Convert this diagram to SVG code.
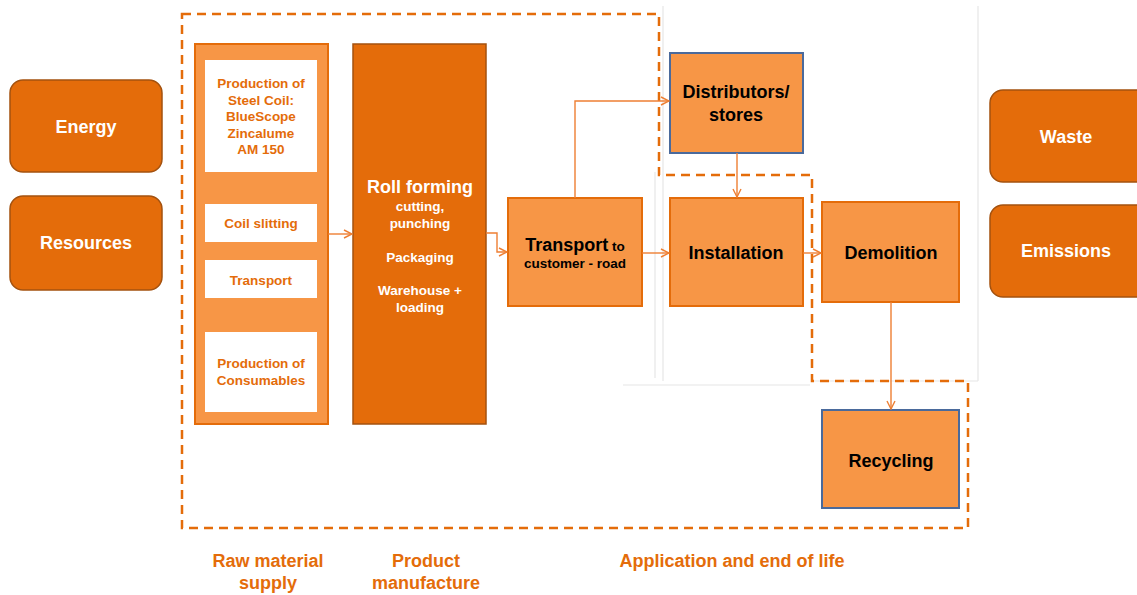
<svg xmlns="http://www.w3.org/2000/svg" width="1137" height="595" viewBox="0 0 1137 595">
<defs>
<style>
text{font-family:"Liberation Sans",Arial,sans-serif;font-weight:bold;text-anchor:middle}
.ext{fill:#E46C0A;stroke:#A4520F;stroke-width:1.5}
.ext-t{fill:#fff;font-size:18px}
.light{fill:#F79646;stroke:#E46C0A;stroke-width:2}
.blue{fill:#F79646;stroke:#4A6A9C;stroke-width:2}
.wbox{fill:#fff}
.ot{fill:#E46C0A;font-size:13.5px}
.bt{fill:#000;font-size:18px}
.wt{fill:#fff;font-size:13.5px}
.lab{fill:#E46C0A;font-size:18px}
.con{fill:none;stroke:#EE7F33;stroke-width:1.4}
.grey{fill:none;stroke:#E6E6E6;stroke-width:1.2}
.dash{fill:none;stroke:#E46C0A;stroke-width:2.5;stroke-dasharray:9,6}
</style>
<marker id="arr" viewBox="0 0 10 10" refX="9" refY="5" markerWidth="10" markerHeight="10" markerUnits="userSpaceOnUse" orient="auto">
<path d="M1,1 L9,5 L1,9" fill="none" stroke="#EE7F33" stroke-width="1.4"/>
</marker>
</defs>
<rect width="1137" height="595" fill="#fff"/>

<g id="guides">
<line class="grey" x1="663" y1="6" x2="663" y2="381"/>
<line class="grey" x1="655" y1="172" x2="655" y2="378"/>
<line class="grey" x1="623" y1="385" x2="810" y2="385"/>
<line class="grey" x1="978" y1="6" x2="978" y2="381"/>
<line class="grey" x1="812" y1="381" x2="978" y2="381"/>
</g>

<g id="boundary">
<path class="dash" d="M182,14 H659 V175 H812 V381 H968 V528 H182 Z"/>
</g>

<g id="energy"><rect class="ext" x="10" y="80" width="152" height="92" rx="13"/><text class="ext-t" x="86" y="133">Energy</text></g>
<g id="resources"><rect class="ext" x="10" y="196" width="152" height="94" rx="13"/><text class="ext-t" x="86" y="249">Resources</text></g>
<g id="waste"><rect class="ext" x="990" y="90" width="160" height="92" rx="13"/><text class="ext-t" x="1066" y="143">Waste</text></g>
<g id="emissions"><rect class="ext" x="990" y="205" width="160" height="92" rx="13"/><text class="ext-t" x="1066" y="257">Emissions</text></g>

<g id="raw-material">
<rect class="light" x="195" y="44" width="133" height="380"/>
<rect class="wbox" x="205" y="60" width="112" height="112"/>
<text class="ot"><tspan x="261" y="88">Production of</tspan><tspan x="261" y="105">Steel Coil:</tspan><tspan x="261" y="121">BlueScope</tspan><tspan x="261" y="138">Zincalume</tspan><tspan x="261" y="154">AM 150</tspan></text>
<rect class="wbox" x="205" y="204" width="112" height="38"/>
<text class="ot" x="261" y="228">Coil slitting</text>
<rect class="wbox" x="205" y="260" width="112" height="38"/>
<text class="ot" x="261" y="285">Transport</text>
<rect class="wbox" x="205" y="332" width="112" height="80"/>
<text class="ot"><tspan x="261" y="368">Production of</tspan><tspan x="261" y="385">Consumables</tspan></text>
</g>

<g id="roll-forming">
<rect x="353" y="44" width="133" height="380" fill="#E46C0A" stroke="#A4520F" stroke-width="1.5"/>
<text class="ext-t" x="420" y="193">Roll forming</text>
<text class="wt"><tspan x="420" y="211">cutting,</tspan><tspan x="420" y="228">punching</tspan><tspan x="420" y="262">Packaging</tspan><tspan x="420" y="295">Warehouse +</tspan><tspan x="420" y="312">loading</tspan></text>
</g>

<g id="transport">
<rect class="light" x="508" y="198" width="134" height="108"/>
<text x="575" y="251"><tspan class="bt">Transport</tspan><tspan fill="#000" font-size="13.5"> to</tspan></text>
<text fill="#000" font-size="13.5" x="575" y="268">customer - road</text>
</g>

<g id="distributors">
<rect class="blue" x="670" y="53" width="133" height="100"/>
<text class="bt"><tspan x="736" y="98">Distributors/</tspan><tspan x="736" y="121">stores</tspan></text>
</g>

<g id="installation"><rect class="light" x="670" y="198" width="133" height="108"/><text class="bt" x="736" y="259">Installation</text></g>
<g id="demolition"><rect class="light" x="822" y="202" width="137" height="100"/><text class="bt" x="891" y="259">Demolition</text></g>
<g id="recycling"><rect class="blue" x="822" y="410" width="137" height="98"/><text class="bt" x="891" y="467">Recycling</text></g>

<g id="connectors">
<path class="con" d="M328,234 H352" marker-end="url(#arr)"/>
<path class="con" d="M486,233 H497 V252 H507" marker-end="url(#arr)"/>
<path class="con" d="M575,198 V101 H669" marker-end="url(#arr)"/>
<path class="con" d="M642,253 H669" marker-end="url(#arr)"/>
<path class="con" d="M737,153 V197" marker-end="url(#arr)"/>
<path class="con" d="M803,253 H821" marker-end="url(#arr)"/>
<path class="con" d="M891,302 V409" marker-end="url(#arr)"/>
</g>

<g id="phase-labels">
<text class="lab"><tspan x="268" y="567">Raw material</tspan><tspan x="268" y="589">supply</tspan></text>
<text class="lab"><tspan x="426" y="567">Product</tspan><tspan x="426" y="589">manufacture</tspan></text>
<text class="lab" x="732" y="567">Application  and end of life</text>
</g>
</svg>
